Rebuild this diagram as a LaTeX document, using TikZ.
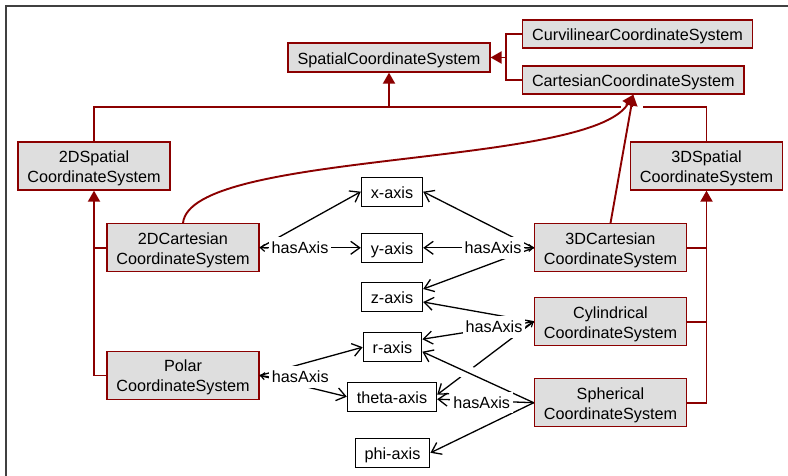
\documentclass[tikz,border=0pt]{standalone}
\usepackage{fontspec}
\setmainfont{Liberation Sans}
\usetikzlibrary{arrows.meta}
\definecolor{DarkRed}{HTML}{8B0000}
\definecolor{BoxGray}{HTML}{DEDEDE}
\definecolor{FrameGray}{HTML}{404040}
\newcommand{\twolines}[2]{\rule{0pt}{16pt}#1\\#2}

\begin{document}
\begin{tikzpicture}[x=1pt,y=-1pt,font=\fontsize{16.2}{20}\selectfont,
  cls/.style={draw=DarkRed,fill=BoxGray,line width=1.3pt,inner xsep=9.5pt,inner ysep=0pt,minimum height=29pt,text height=14pt,text depth=0.8pt},
  cls2/.style={draw=DarkRed,fill=BoxGray,line width=1.3pt,inner xsep=9.5pt,inner ysep=0pt,minimum height=48pt,align=center},
  axbox/.style={draw=black,fill=white,line width=1.1pt,inner xsep=9.5pt,inner ysep=0pt,minimum height=29pt,text height=14pt,text depth=0.8pt},
  lbl/.style={fill=white,inner xsep=3pt,inner ysep=5pt,text height=11.6pt,text depth=0pt},
  inh/.style={DarkRed,line width=1.9pt},
  isa/.style={-{Triangle[length=11pt,width=12pt]}},
  has/.style={line width=1.3pt,-{Straight Barb[length=9pt,width=13pt]}},
  stub/.style={line width=1.2pt,-{Straight Barb[length=4pt,width=7pt]}}]
\useasboundingbox (0,0) rectangle (788,476);
% rahmen
\draw[FrameGray,line width=2pt] (6,476) -- (6,6) -- (788,6);
% klassen
\node[cls] (spat) at (389,57.5) {SpatialCoordinateSystem};
\node[cls,minimum height=28pt] (curv) at (637.5,34) {CurvilinearCoordinateSystem};
\node[cls,minimum height=28pt] (cart) at (633.3,80) {CartesianCoordinateSystem};
\node[cls2] (s2d) at (94,166) {\twolines{2DSpatial}{CoordinateSystem}};
\node[cls2] (s3d) at (706.5,166) {\twolines{3DSpatial}{CoordinateSystem}};
\node[cls2] (c2d) at (183,247.8) {\twolines{2DCartesian}{CoordinateSystem}};
\node[cls2] (pol) at (183,375.5) {\twolines{Polar}{CoordinateSystem}};
\node[cls2] (c3d) at (610.5,247.8) {\twolines{3DCartesian}{CoordinateSystem}};
\node[cls2] (cyl) at (610.5,321.7) {\twolines{Cylindrical}{CoordinateSystem}};
\node[cls2] (sph) at (610.5,402.7) {\twolines{Spherical}{CoordinateSystem}};
% achsen
\node[axbox] (xa) at (392,191.7) {x-axis};
\node[axbox] (ya) at (392,247.8) {y-axis};
\node[axbox] (za) at (392,297) {z-axis};
\node[axbox] (ra) at (392.5,347.2) {r-axis};
\node[axbox] (ta) at (392,396.7) {theta-axis};
\node[axbox] (pa) at (392.5,452.8) {phi-axis};
% vererbung
\coordinate (hubS) at (389,107);
\coordinate (hubC) at (506,57.5);
\draw[inh] (s2d.north) |- (hubS) -| (s3d.north);
\draw[inh,isa] (hubS) -- (spat.south);
\draw[inh] (curv.west) -| (hubC) |- (cart.west);
\draw[inh,isa] (hubC) -- (spat.east);
\draw[inh] (c2d.west) -- (c2d.west -| s2d.south);
\draw[inh,isa] (pol.west) -| (s2d.south);
\draw[inh] (c3d.east) -- (c3d.east -| s3d.south);
\draw[inh] (cyl.east) -- (cyl.east -| s3d.south);
\draw[inh,isa] (sph.east) -| (s3d.south);
\fill[white] (621,102) rectangle (643,112);
\draw[inh,isa] (c2d.north) .. controls (190,150) and (590,168) .. (cart.south);
\draw[inh,isa] (c3d.north) -- (cart.south);
% hasAxis
\draw[has] (c2d.east) -- (xa.west);
\draw[has] (c2d.east) -- (ya.west);
\draw[has] (pol.east) -- (ra.west);
\draw[has] (pol.east) -- (ta.west);
\draw[has] (c3d.west) -- (xa.east);
\draw[has] (c3d.west) -- (ya.east);
\draw[has] (c3d.west) -- ([yshift=8pt]za.east);
\draw[has] (cyl.west) -- ([yshift=-5pt]za.east);
\draw[has] (cyl.west) -- ([yshift=8pt]ra.east);
\draw[has] (cyl.west) -- ([yshift=2pt]ta.east);
\draw[has,preaction={draw=white,-,line width=14pt,shorten <=62pt,shorten >=37pt}] (sph.west) -- ([yshift=-4.5pt]ra.east);
\draw[has] (sph.west) -- ([yshift=-2.5pt]ta.east);
\draw[has] (sph.west) -- (pa.east);
\node[lbl] (h2c) at (300,248) {hasAxis};
\node[lbl] (hpol) at (300.3,376.7) {hasAxis};
\node[lbl] (h3c) at (493,248) {hasAxis};
\node[lbl] (hcyl) at (494,326.7) {hasAxis};
\node[lbl] (hsph) at (481.7,402.3) {hasAxis};
\draw[stub] (h2c.west) -- (c2d.east);
\draw[stub] (hpol.west) -- (pol.east);
\draw[stub] (h3c.east) -- (c3d.west);
\draw[stub] (hcyl.east) -- (cyl.west);
\end{tikzpicture}
\end{document}
